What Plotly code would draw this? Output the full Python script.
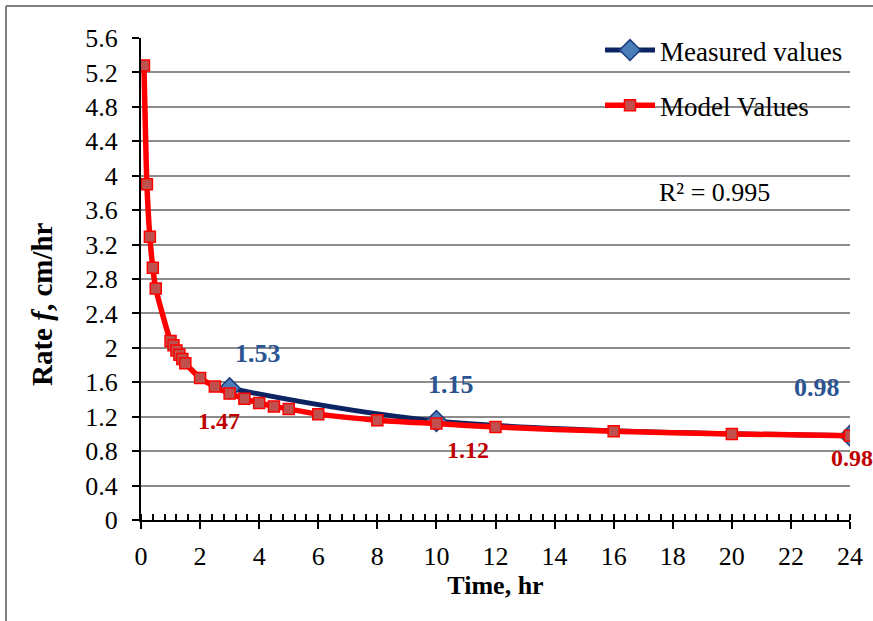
import plotly.graph_objects as go

# Data
model_time = [0.1, 0.2, 0.3, 0.4, 0.5, 1.0, 1.1, 1.2, 1.3, 1.4, 1.5, 2.0, 2.5, 3.0, 3.5,
              4.0, 4.5, 5.0, 6.0, 8.0, 10.0, 12.0, 16.0, 20.0, 24.0]
model_rate = [5.28, 3.90, 3.29, 2.93, 2.69, 2.08, 2.03, 1.97, 1.92, 1.87, 1.82, 1.65, 1.55, 1.47, 1.41,
              1.36, 1.32, 1.29, 1.23, 1.16, 1.12, 1.08, 1.03, 1.00, 0.98]
meas_time = [3, 10, 24]
meas_rate = [1.53, 1.15, 0.98]
model_label_time = [3, 10, 24]
model_label_rate = [1.47, 1.12, 0.98]
y_ticks = [0, 0.4, 0.8, 1.2, 1.6, 2, 2.4, 2.8, 3.2, 3.6, 4, 4.4, 4.8, 5.2, 5.6]
x_ticks = list(range(0, 25, 2))

SERIF = "Liberation Serif, Times New Roman, serif"

fig = go.Figure()
fig.add_trace(go.Scatter(
    x=meas_time, y=meas_rate, name="Measured values", mode="lines+markers", legendgroup="m",
    line=dict(color="#0d2463", width=5, shape="spline"),
    marker=dict(symbol="diamond", size=16, color="#4a7ebb", line=dict(color="#1f3a7a", width=1.5)),
))
fig.add_trace(go.Scatter(
    x=model_time, y=model_rate, name="Model Values", mode="lines+markers", legendgroup="v",
    line=dict(color="#ff0000", width=5.5, shape="spline", smoothing=0.6),
    marker=dict(symbol="square", size=11, color="#c0504d", line=dict(color="#ff0000", width=1.5)),
))

# value labels
meas_offsets = [(28, -35), (15, -37), (-33, -48)]
for (t, r), (dx, dy) in zip(zip(meas_time, meas_rate), meas_offsets):
    fig.add_annotation(x=t, y=r, text=f"<b>{r:.2f}</b>", showarrow=False, xshift=dx, yshift=-dy,
                       font=dict(family=SERIF, size=26, color="#2b5491"))
model_offsets = [(-11, 28), (32, 26), (2, 22)]
for (t, r), (dx, dy) in zip(zip(model_label_time, model_label_rate), model_offsets):
    fig.add_annotation(x=t, y=r, text=f"<b>{r:.2f}</b>", showarrow=False, xshift=dx, yshift=-dy,
                       font=dict(family=SERIF, size=24, color="#c00000"))

pw, ph = 873 - 141 - 23, 621 - 38 - 101
fig.add_annotation(x=(714 - 141) / pw, y=(520 - 193) / ph, xref="paper", yref="paper",
                   xanchor="center", yanchor="middle", text="R² = 0.995", showarrow=False,
                   font=dict(family=SERIF, size=26, color="black"))

# y axis title (placed as in the reference, slightly below plot centre)
fig.add_annotation(x=(42 - 141) / pw, y=(520 - 304) / ph, xref="paper", yref="paper",
                   xanchor="center", yanchor="middle", textangle=-90, showarrow=False,
                   text="<b>Rate <i>f</i>, cm/hr</b>", font=dict(family=SERIF, size=29, color="black"))

fig.update_layout(
    width=873, height=621,
    margin=dict(l=141, r=23, t=38, b=101),
    paper_bgcolor="white", plot_bgcolor="white",
    font=dict(family=SERIF, size=24, color="black"),
    legend=dict(x=(600 - 141) / pw, y=1.0 + 12 / ph, xanchor="left", yanchor="top", bgcolor="rgba(0,0,0,0)",
                font=dict(family=SERIF, size=27, color="black"), tracegroupgap=17, itemwidth=50),
    showlegend=True,
)

fig.update_xaxes(
    range=[0, 24], tickvals=x_ticks, ticks="outside", ticklen=7, tickwidth=2, tickcolor="black",
    showline=True, linecolor="black", linewidth=2, showgrid=False, zeroline=False,
    tickfont=dict(family=SERIF, size=26), ticklabelstandoff=5,
    minor=dict(dtick=0.4, ticks="inside", ticklen=6, tickwidth=1.5, tickcolor="black"),
    title=dict(text="<b>Time, hr</b>", font=dict(family=SERIF, size=26), standoff=0),
    automargin=False,
)
fig.update_yaxes(
    range=[0, 5.6], tickvals=y_ticks, ticktext=[f"{v:g}" for v in y_ticks],
    ticks="outside", ticklen=7, tickwidth=2, tickcolor="black",
    showline=True, linecolor="black", linewidth=2, showgrid=True, gridcolor="#8c8c8c", gridwidth=1.5,
    zeroline=False, tickfont=dict(family=SERIF, size=26), ticklabelstandoff=9,
    automargin=False,
)

# outer chart border (left and top edges visible)
fig.add_shape(type="line", xref="paper", yref="paper", x0=-135 / pw, x1=-135 / pw, y0=-101 / ph - 0.1, y1=1 + 32 / ph,
              line=dict(color="#7f7f7f", width=2))
fig.add_shape(type="line", xref="paper", yref="paper", x0=-135 / pw, x1=1.1, y0=1 + 32 / ph, y1=1 + 32 / ph,
              line=dict(color="#7f7f7f", width=2))

fig.write_html("out.html")
